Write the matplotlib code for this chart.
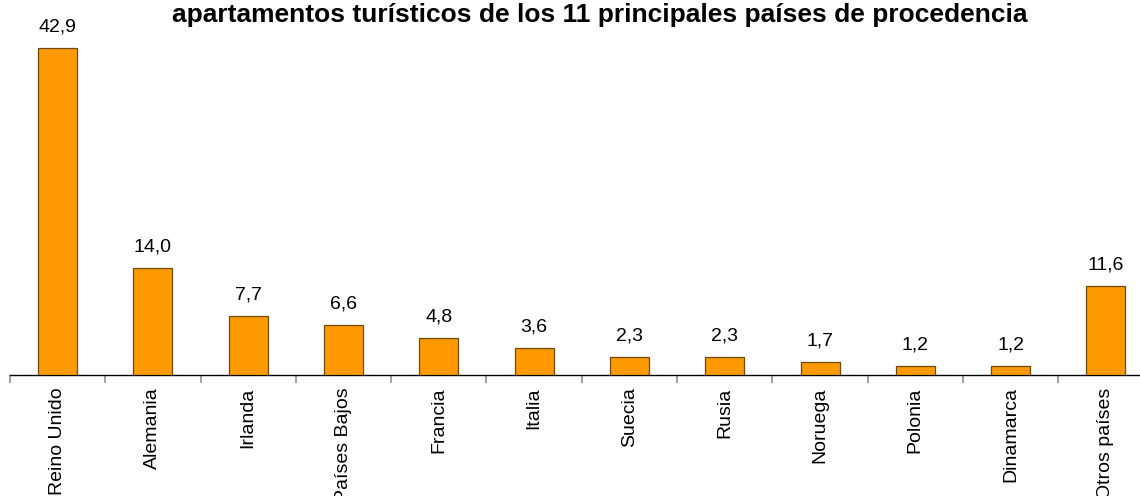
import matplotlib
matplotlib.use("Agg")
import matplotlib.pyplot as plt
import numpy as np

categories = ["Reino Unido", "Alemania", "Irlanda", "Países Bajos", "Francia", "Italia",
              "Suecia", "Rusia", "Noruega", "Polonia", "Dinamarca", "Otros países"]
values = [42.9, 14.0, 7.7, 6.6, 4.8, 3.6, 2.3, 2.3, 1.7, 1.2, 1.2, 11.6]
value_labels = ["42,9", "14,0", "7,7", "6,6", "4,8", "3,6", "2,3", "2,3", "1,7", "1,2", "1,2", "11,6"]
title = "apartamentos turísticos de los 11 principales países de procedencia"

plt.rcParams['font.family'] = ['Liberation Sans', 'DejaVu Sans']

W, H = 1140, 496
fig = plt.figure(figsize=(W / 100, H / 100), dpi=100)
step = 95.3
left_px = 10
base_px = 375
ymax = 50
px_per_unit = 7.63
ax = fig.add_axes([left_px / W, (H - base_px) / H, 12 * step / W, ymax * px_per_unit / H])

x = np.arange(len(categories))
ax.bar(x, values, width=0.41, color="#FF9900", edgecolor="#6b4a10", linewidth=0.9, zorder=3)
for xi, v, lab in zip(x, values, value_labels):
    ax.annotate(lab, (xi, v), xytext=(0, 9), textcoords="offset points",
                ha="center", va="bottom", fontsize=14, color="black")

ax.set_xlim(-0.5, len(categories) - 0.5)
ax.set_ylim(0, ymax)
for s in ["top", "right", "left"]:
    ax.spines[s].set_visible(False)
ax.spines["bottom"].set_color("black")
ax.spines["bottom"].set_linewidth(1.0)
ax.set_yticks([])
ax.set_xticks(x)
ax.set_xticklabels(categories, rotation=90, fontsize=14, va="top", ha="center")
ax.tick_params(axis="x", which="major", length=0, pad=9)
ax.set_xticks(np.arange(-0.5, len(categories), 1), minor=True)
ax.tick_params(axis="x", which="minor", length=6, color="#909090", width=1.2, direction="out")

fig.text(600 / W, 1 - 22 / H, title, ha="center", va="baseline", fontsize=19, fontweight="bold")

fig.savefig("out.png", dpi=100)
